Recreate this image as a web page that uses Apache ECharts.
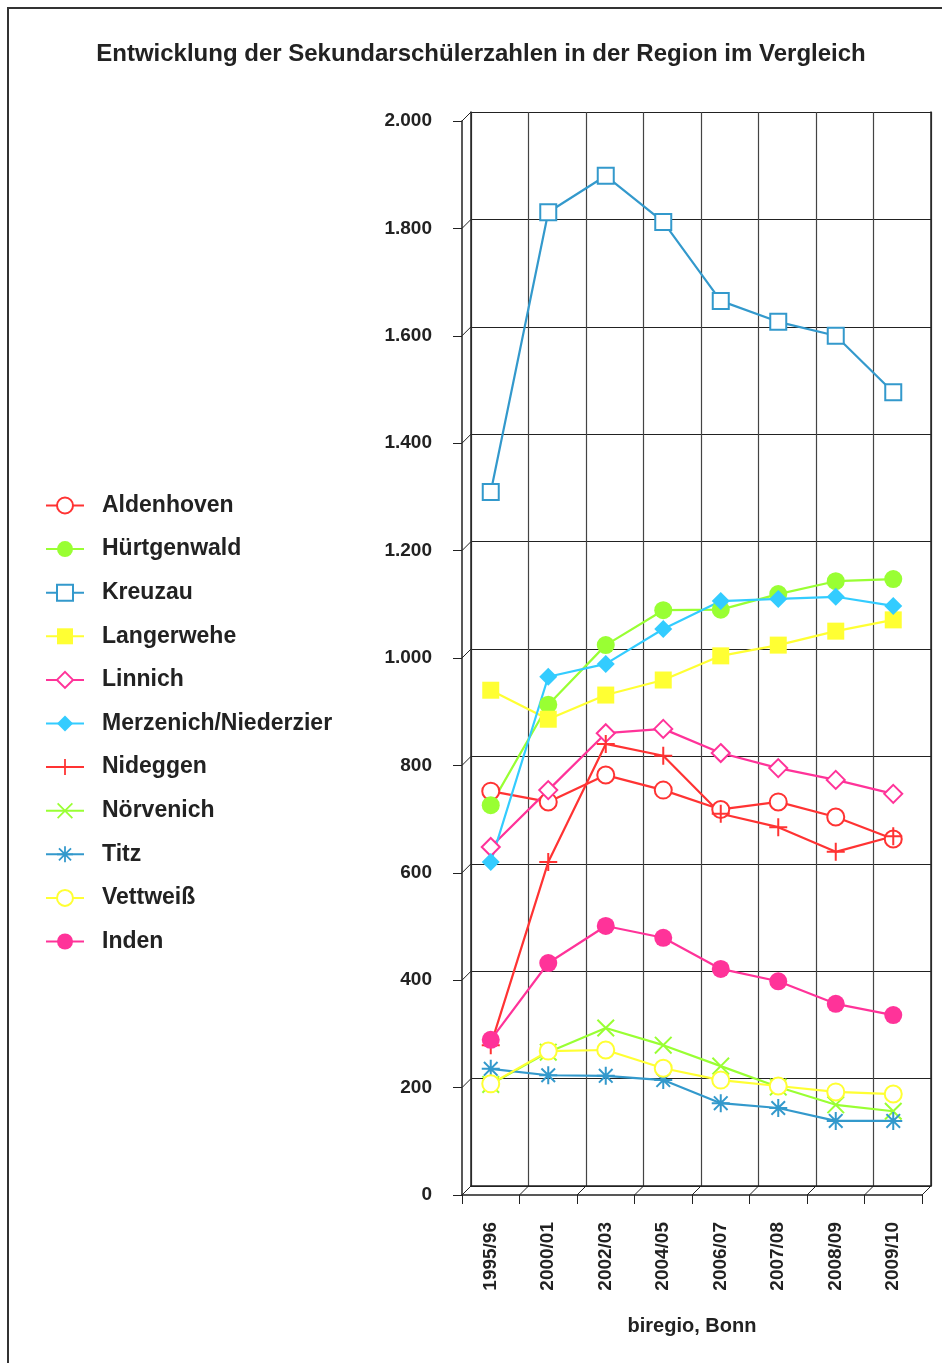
<!DOCTYPE html>
<html>
<head>
<meta charset="utf-8">
<script src="https://cdn.jsdelivr.net/npm/echarts@6/dist/echarts.min.js"></script>
<style>
  html, body { margin: 0; padding: 0; background: #fff; overflow: hidden; }
  #main { width: 942px; height: 1363px; position: relative; }
  .frame { position: absolute; left: 7px; top: 7px; width: 1000px; height: 1400px; border: 2px solid #333; box-sizing: border-box; pointer-events: none; }
</style>
</head>
<body>
<div id="main"></div>
<div class="frame"></div>
<script>
const years = ["1995/96", "2000/01", "2002/03", "2004/05", "2006/07", "2007/08", "2008/09", "2009/10"];

const aldenhoven = [752, 732, 782, 754, 718, 732, 704, 663];
const huertgenwald = [726, 913, 1024, 1089, 1090, 1119, 1143, 1147];
const kreuzau = [1309, 1830, 1898, 1812, 1665, 1626, 1600, 1495];
const langerwehe = [940, 886, 931, 959, 1004, 1024, 1050, 1071];
const linnich = [648, 754, 860, 868, 823, 795, 773, 747];
const merzenich = [620, 965, 989, 1054, 1106, 1110, 1114, 1097];
const nideggen = [279, 620, 840, 818, 710, 685, 639, 668];
const noervenich = [206, 266, 311, 279, 240, 201, 168, 156];
const titz = [235, 223, 222, 214, 171, 162, 138, 138];
const vettweiss = [207, 268, 270, 236, 214, 203, 192, 188];
const inden = [289, 432, 501, 479, 421, 398, 356, 335];

const yTicks = [0, 200, 400, 600, 800, 1000, 1200, 1400, 1600, 1800, 2000];

const RED = "#ff3333", GREEN = "#99ff33", BLUE = "#3399cc", YELLOW = "#ffff33", PINK = "#ff3399", CYAN = "#33ccff";

const plusPath = "path://M8,0H10V8H18V10H10V18H8V10H0V8H8Z";
const crossPath = "path://M0,1.4L1.4,0L9,7.6L16.6,0L18,1.4L10.4,9L18,16.6L16.6,18L9,10.4L1.4,18L0,16.6L7.6,9Z";
const starPath = "path://M8,0H10V8H18V10H10V18H8V10H0V8H8Z M1.5,2.9L2.9,1.5L9,7.6L15.1,1.5L16.5,2.9L10.4,9L16.5,15.1L15.1,16.5L9,10.4L2.9,16.5L1.5,15.1L7.6,9Z";

function fmt(v) {
  if (v >= 1000) return Math.floor(v / 1000) + "." + String(v % 1000).padStart(3, "0");
  return String(v);
}

function mkSeries(name, data, color, symbol, size, empty) {
  return {
    name: name,
    type: "line",
    xAxisIndex: 0,
    yAxisIndex: 0,
    data: data,
    symbol: symbol,
    symbolSize: size,
    showAllSymbol: true,
    lineStyle: { color: color, width: 2.2 },
    itemStyle: empty ? { color: color, borderColor: color, borderWidth: 2.5 } : { color: color, borderWidth: 0 },
    emphasis: { disabled: true },
    z: 5
  };
}

const series = [
  mkSeries("Aldenhoven", aldenhoven, RED, "emptyCircle", 17, true),
  mkSeries("Hürtgenwald", huertgenwald, GREEN, "circle", 18, false),
  mkSeries("Kreuzau", kreuzau, BLUE, "emptyRect", 16, true),
  mkSeries("Langerwehe", langerwehe, YELLOW, "rect", 17, false),
  mkSeries("Linnich", linnich, PINK, "emptyDiamond", 18, true),
  mkSeries("Merzenich/Niederzier", merzenich, CYAN, "diamond", 18, false),
  mkSeries("Nideggen", nideggen, RED, plusPath, 18, false),
  mkSeries("Nörvenich", noervenich, GREEN, crossPath, 18, false),
  mkSeries("Titz", titz, BLUE, starPath, 18, false),
  mkSeries("Vettweiß", vettweiss, YELLOW, "emptyCircle", 17, true),
  mkSeries("Inden", inden, PINK, "circle", 18, false)
];

const chart = echarts.init(document.getElementById("main"), null, { renderer: "canvas" });

const option = {
  animation: false,
  backgroundColor: "transparent",
  textStyle: { fontFamily: "Liberation Sans, Arial, sans-serif" },
  title: {
    text: "Entwicklung der Sekundarschülerzahlen in der Region im Vergleich",
    left: 476,
    textAlign: "center",
    top: 37,
    textStyle: { fontSize: 24, fontWeight: "bold", color: "#222" }
  },
  legend: {
    orient: "vertical",
    left: 45,
    top: 494,
    padding: 0,
    itemWidth: 38,
    itemHeight: 20,
    itemGap: 20.6,
    textStyle: { fontSize: 23, fontWeight: "bold", color: "#222", lineHeight: 20, padding: [0, 0, 0, 13] },
    data: series.map(s => s.name)
  },
  grid: [
    { left: 462, right: 20, top: 121, bottom: 168 },
    { left: 471, right: 11, top: 112, bottom: 177 }
  ],
  xAxis: [
    {
      gridIndex: 0,
      type: "category",
      data: years,
      boundaryGap: true,
      axisLine: { lineStyle: { color: "#222", width: 1.5 } },
      axisTick: { show: true, length: 9, alignWithLabel: false, lineStyle: { color: "#222" } },
      axisLabel: { rotate: 90, margin: 27, fontSize: 19, fontWeight: "bold", color: "#222" },
      splitLine: { show: false },
      name: "biregio, Bonn",
      nameLocation: "middle",
      nameGap: 121,
      nameTextStyle: { fontSize: 20, fontWeight: "bold", color: "#222" }
    },
    {
      gridIndex: 1,
      type: "category",
      data: years,
      boundaryGap: true,
      axisLine: { lineStyle: { color: "#222", width: 1.5 } },
      axisTick: { show: false },
      axisLabel: { show: false },
      splitLine: { show: true, lineStyle: { color: "#444", width: 1.2 } }
    }
  ],
  yAxis: [
    {
      gridIndex: 0,
      type: "value",
      min: 0,
      max: 2000,
      interval: 200,
      axisLine: { show: true, lineStyle: { color: "#222", width: 1.5 } },
      axisTick: { show: true, length: 9, lineStyle: { color: "#222" } },
      axisLabel: { margin: 30, fontSize: 19, fontWeight: "bold", color: "#222", formatter: fmt },
      splitLine: { show: false }
    },
    {
      gridIndex: 1,
      type: "value",
      min: 0,
      max: 2000,
      interval: 200,
      axisLine: { show: true, lineStyle: { color: "#222", width: 1.5 } },
      axisTick: { show: false },
      axisLabel: { show: false },
      splitLine: { show: true, lineStyle: { color: "#222", width: 1.2 } }
    },
    {
      gridIndex: 1,
      type: "value",
      position: "right",
      min: 0,
      max: 2000,
      interval: 200,
      axisLine: { show: true, onZero: false, lineStyle: { color: "#222", width: 1.5 } },
      axisTick: { show: false },
      axisLabel: { show: false },
      splitLine: { show: false }
    }
  ],
  series: series
};

chart.setOption(option);

// 3D-Kanten: kleine Diagonalen zwischen vorderer Achse und Rückwand
const p0 = chart.convertToPixel({ xAxisIndex: 0, yAxisIndex: 0 }, [0, 0]);
const p1 = chart.convertToPixel({ xAxisIndex: 0, yAxisIndex: 0 }, [1, 0]);
const bw = p1[0] - p0[0];
const q0 = chart.convertToPixel({ xAxisIndex: 1, yAxisIndex: 1 }, [0, 0]);
const dx = q0[0] - p0[0];
const dy = q0[1] - p0[1];
const edges = [];
yTicks.forEach(v => {
  const p = chart.convertToPixel({ xAxisIndex: 0, yAxisIndex: 0 }, [0, v]);
  const x = p0[0] - bw / 2;
  edges.push({ type: "line", silent: true, z: 3, shape: { x1: x, y1: p[1], x2: x + dx, y2: p[1] + dy }, style: { stroke: "#222", lineWidth: 1 } });
});
for (let i = 0; i <= years.length; i++) {
  const x = p0[0] - bw / 2 + i * bw;
  edges.push({ type: "line", silent: true, z: 3, shape: { x1: x, y1: p0[1], x2: x + dx, y2: p0[1] + dy }, style: { stroke: "#222", lineWidth: 1 } });
}
chart.setOption({ graphic: edges });
</script>
</body>
</html>
